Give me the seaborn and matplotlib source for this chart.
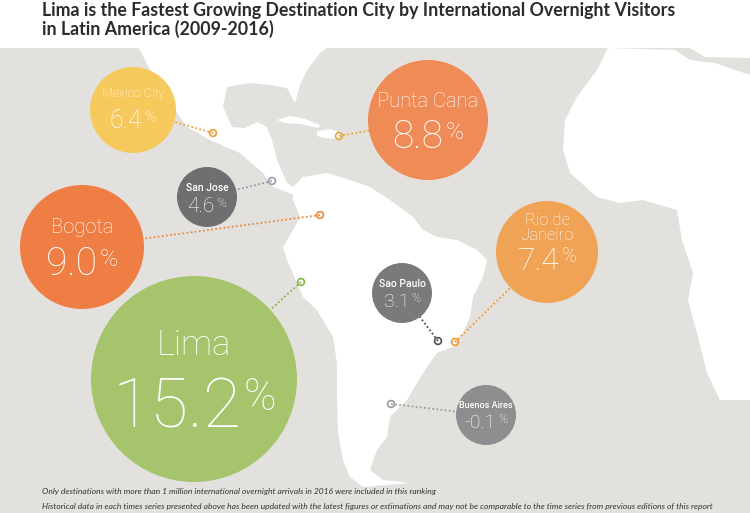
import matplotlib
matplotlib.use("Agg")
import matplotlib.pyplot as plt
import seaborn as sns
import pandas as pd

# data
cities = ["Mexico City", "Punta Cana", "San Jose", "Bogota", "Rio de\nJaneiro",
          "Lima", "Sao Paulo", "Buenos Aires"]
growth = [6.4, 8.8, 4.6, 9.0, 7.4, 15.2, 3.1, -0.1]

# layout (pixel space of the 750x513 canvas)
bubble_x = [133, 428, 207, 82, 547, 194, 402, 486]
bubble_y = [110, 120, 197, 247, 252, 379, 293, 415]
bubble_r = [43, 60, 30, 62, 51, 103, 30, 30]
pin_x = [213, 339, 272, 320, 455, 301, 438, 391]
pin_y = [133, 136, 181, 215, 342, 282, 341, 404]
label_dy = [-13, -13, -6, -14, -12, -24, -6, -7]
number_dy = [18, 28, 15, 28, 18, 48, 14, 13]
label_fs = [9, 14.5, 7.5, 14.5, 12, 25, 7.5, 6.5]
number_fs = [18, 28, 15, 28, 23, 50, 14, 14]
label_wt = ["light", "light", "medium", "light", "light", "light", "medium", "medium"]

bubble_colors = ["#f6c95c", "#ef8b57", "#6f6f71", "#ef7e44", "#f0a255",
                 "#a6c46c", "#7a7a7c", "#8e8e90"]
pin_colors = ["#e9a03c", "#e3a83e", "#9a98ac", "#ea8a3a", "#f0992f",
              "#86b545", "#4f4f55", "#9c9c9e"]

df = pd.DataFrame({"city": cities, "growth": growth, "bx": bubble_x, "by": bubble_y,
                   "r": bubble_r, "px": pin_x, "py": pin_y})

# rough land shapes for the backdrop
north_america = [(139, 48), (150, 70), (165, 95), (187, 127), (210, 140), (240, 153),
                 (263, 173), (273, 187), (290, 193), (297, 197), (300, 192), (287, 183),
                 (277, 160), (272, 140), (267, 127), (257, 122), (245, 128), (232, 127),
                 (223, 107), (227, 87), (250, 83), (270, 85), (287, 88), (295, 103),
                 (300, 85), (307, 70), (320, 53), (327, 48)]
cuba = [(277, 120), (290, 116), (305, 119), (320, 125), (318, 128), (300, 124), (285, 123)]
hispaniola = [(317, 131), (330, 129), (342, 133), (338, 139), (325, 138), (317, 136)]
south_america = [(293, 187), (303, 177), (327, 173), (350, 180), (370, 187), (390, 200),
                 (413, 217), (423, 230), (437, 237), (457, 240), (477, 250), (487, 260),
                 (483, 277), (473, 297), (470, 317), (463, 333), (453, 347), (437, 353),
                 (427, 367), (417, 383), (407, 400), (397, 410), (390, 417), (387, 437),
                 (377, 450), (370, 470), (383, 480), (410, 483), (363, 487), (350, 477),
                 (343, 460), (338, 433), (337, 400), (337, 363), (333, 337), (317, 310),
                 (303, 297), (297, 283), (287, 260), (283, 247), (293, 230), (300, 217),
                 (293, 200)]
africa = [(608, 48), (675, 50), (690, 60), (715, 63), (750, 75), (750, 400), (720, 400),
          (707, 373), (697, 333), (688, 300), (693, 273), (682, 240), (677, 210),
          (643, 200), (620, 203), (597, 197), (570, 173), (563, 150), (565, 120),
          (577, 97), (597, 70)]
europe = [(690, 48), (750, 48), (750, 58), (705, 57)]

sns.set_theme(style="white")
plt.rcParams["font.family"] = ["Lato", "DejaVu Sans"]
bubble_font = ["Roboto", "DejaVu Sans"]

fig = plt.figure(figsize=(7.5, 5.13), dpi=100)
ax = fig.add_axes([0, 0, 1, 1])
ax.set_xlim(0, 750)
ax.set_ylim(513, 0)
ax.axis("off")

ax.fill([0, 750, 750, 0], [48, 48, 513, 513], color="#e3e1dd", zorder=0, lw=0)
for shape in [north_america, cuba, hispaniola, south_america, africa, europe]:
    xs, ys = zip(*shape)
    ax.fill(xs, ys, color="white", zorder=1, lw=0)

# connectors
for i, row in df.iterrows():
    ax.plot([row.px, row.bx], [row.py, row.by], ls=(0, (1, 1.3)), lw=1.3,
            color=pin_colors[i], zorder=2)

# bubbles (pixel radius -> marker area in points^2)
sizes = [(2 * r * 0.72) ** 2 for r in df["r"]]
sns.scatterplot(data=df, x="bx", y="by", hue="city", palette=bubble_colors,
                s=sizes, linewidth=0, legend=False, ax=ax, zorder=3)

# pins: open rings
sns.scatterplot(data=df, x="px", y="py", hue="city", palette=pin_colors,
                s=24, legend=False, ax=ax, zorder=4)
pins = ax.collections[-1]
pins.set_edgecolors(pins.get_facecolors())
pins.set_facecolors("none")
pins.set_linewidths(1.2)

renderer = fig.canvas.get_renderer()
for i, row in df.iterrows():
    ax.text(row.bx, row.by + label_dy[i], row.city, ha="center", va="baseline",
            fontsize=label_fs[i], color="white", fontweight=label_wt[i],
            family=bubble_font, linespacing=1.0, zorder=5)
    num = ax.text(0, row.by + number_dy[i], f"{row.growth:.1f}", ha="left",
                  va="baseline", fontsize=number_fs[i], color="white",
                  fontweight="light", family=bubble_font, zorder=5)
    pct = ax.text(0, row.by + number_dy[i] - 0.33 * number_fs[i], "%", ha="left",
                  va="baseline", fontsize=number_fs[i] * 0.63, color="white",
                  fontweight="light", family=bubble_font, zorder=5)
    w1 = num.get_window_extent(renderer).width
    w2 = pct.get_window_extent(renderer).width
    x0 = row.bx - (w1 + w2 + 2) / 2
    num.set_x(x0)
    pct.set_x(x0 + w1 + 2)

fig.text(42 / 750, 1 - 16 / 513, "Lima is the Fastest Growing Destination City by International Overnight Visitors",
         fontsize=12.8, fontweight="bold", color="#2b2b2b", va="baseline")
fig.text(42 / 750, 1 - 35 / 513, "in Latin America (2009-2016)",
         fontsize=12.8, fontweight="bold", color="#2b2b2b", va="baseline")

fig.text(42 / 750, 1 - 494 / 513,
         "Only destinations with more than 1 million international overnight arrivals in 2016 were included in this ranking",
         fontsize=6.1, style="italic", color="#333333", va="baseline")
fig.text(42 / 750, 1 - 509 / 513,
         "Historical data in each times series presented above has been updated with the latest figures or estimations and may not be comparable to the time series from previous editions of this report",
         fontsize=6.1, style="italic", color="#333333", va="baseline")

fig.savefig("out.png", dpi=100)
